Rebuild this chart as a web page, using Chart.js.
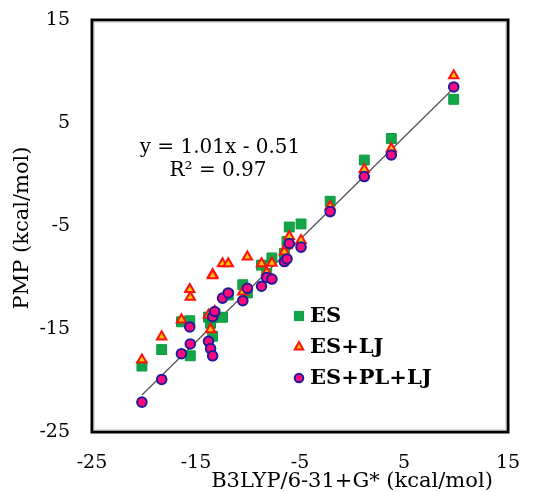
<!DOCTYPE html>
<html>
<head>
<meta charset="utf-8">
<script src="https://cdn.jsdelivr.net/npm/chart.js@4.4.1/dist/chart.umd.min.js"></script>
<style>
    html, body { margin: 0; padding: 0; background: #fff; }
    #wrap { width: 540px; height: 492px; }
</style>
</head>
<body>
<div id="wrap"><canvas id="chart-pmp" width="540" height="492"></canvas></div>
<script>
// B3LYP/6-31+G* reference energies (kcal/mol), one per complex
const b3lyp = [-20.2, -18.3, -16.4, -15.55, -15.6, -13.8, -13.6, -13.4, -13.4, -13.2,
    -12.45, -11.9, -10.5, -10.06, -8.7, -8.2, -7.7, -6.5, -6.25, -6.03,
    -4.9, -2.1, 1.18, 3.78, 9.78];
// PMP energies for each model
const pmpES = [-18.6, -17.0, -14.3, -17.6, -14.2, -13.85, -14.45, -15.7, -13.9, -13.5,
    -13.86, -11.7, -10.7, -11.5, -8.8, -9.6, -8.1, -7.65, -6.5, -5.1,
    -4.8, -2.6, 1.4, 3.5, 7.3];
const pmpLJ = [-18.0, -15.75, -14.1, -11.9, -11.15, -13.65, -15.05, -9.7, -9.8, -13.3,
    -8.65, -8.65, -11.4, -8.0, -8.65, -9.5, -8.6, -7.5, -6.9, -6.0,
    -6.4, -3.1, 0.5, 2.5, 9.6];
const pmpPL = [-22.1, -19.9, -17.4, -16.45, -14.8, -16.2, -16.9, -17.6, -13.8, -13.3,
    -12.0, -11.5, -12.25, -11.05, -10.85, -10.0, -10.15, -8.45, -8.2, -6.7,
    -7.05, -3.6, -0.2, 1.9, 8.5];
// trend line ends
const fitX = [-20.2, 9.6];
const fitY = [-21.4, 8.2];
const fitText = ['y = 1.01x - 0.51', 'R\u00b2 = 0.97'];
const seriesNames = ['ES', 'ES+LJ', 'ES+PL+LJ'];

const FONT = "'DejaVu Serif', serif";

const pts = (xs, ys) => xs.map((x, i) => ({ x: x, y: ys[i] }));

const styles = [
    { pointStyle: 'rect', radius: 7, backgroundColor: '#12A64A', borderColor: '#0C9A3C', borderWidth: 1 },
    { pointStyle: 'triangle', radius: 5.4, backgroundColor: '#FFC000', borderColor: '#FF1010', borderWidth: 2 },
    { pointStyle: 'circle', radius: 4.8, backgroundColor: '#FF0A7A', borderColor: '#1C1C9C', borderWidth: 2 }
];

const decor = {
    id: 'decor',
    afterDraw(chart) {
        const ctx = chart.ctx;
        const a = chart.chartArea;
        ctx.save();
        // frame
        ctx.strokeStyle = '#000';
        ctx.lineWidth = 3;
        ctx.strokeRect(a.left, a.top, a.right - a.left, a.bottom - a.top);
        ctx.strokeStyle = '#bbb';
        ctx.lineWidth = 1;
        ctx.strokeRect(a.left + 2, a.top + 2, a.right - a.left - 4, a.bottom - a.top - 4);

        // equation
        ctx.fillStyle = '#000';
        ctx.textAlign = 'center';
        ctx.textBaseline = 'middle';
        ctx.font = "20px " + FONT;
        ctx.fillText(fitText[0], 220, 148);
        ctx.fillText(fitText[1], 218, 171);

        // legend
        ctx.textAlign = 'left';
        ctx.font = "bold 21px " + FONT;
        seriesNames.forEach((name, i) => {
            const y = 316 + i * 31;
            const s = styles[i];
            ctx.fillStyle = s.backgroundColor;
            ctx.strokeStyle = s.borderColor;
            ctx.lineWidth = s.borderWidth;
            Chart.helpers.drawPoint(ctx, { pointStyle: s.pointStyle, radius: s.radius - 0.5, rotation: 0, borderWidth: s.borderWidth }, 299, y);
            ctx.fillStyle = '#000';
            ctx.fillText(name, 310, y + 1);
        });

        // axis titles
        ctx.font = "21px " + FONT;
        ctx.textAlign = 'center';
        ctx.fillText('B3LYP/6-31+G* (kcal/mol)', 352, 482);
        ctx.translate(23, 228);
        ctx.rotate(-Math.PI / 2);
        ctx.fillText('PMP (kcal/mol)', 0, 0);
        ctx.restore();
    }
};

const theChart = new Chart(document.getElementById('chart-pmp'), {
    type: 'scatter',
    data: {
        datasets: [
            {
                label: seriesNames[2],
                data: pts(b3lyp, pmpPL),
                order: 0,
                pointStyle: styles[2].pointStyle,
                pointRadius: styles[2].radius,
                pointBackgroundColor: styles[2].backgroundColor,
                pointBorderColor: styles[2].borderColor,
                pointBorderWidth: styles[2].borderWidth
            },
            {
                label: seriesNames[1],
                data: pts(b3lyp, pmpLJ),
                order: 1,
                pointStyle: styles[1].pointStyle,
                pointRadius: styles[1].radius,
                pointBackgroundColor: styles[1].backgroundColor,
                pointBorderColor: styles[1].borderColor,
                pointBorderWidth: styles[1].borderWidth
            },
            {
                label: seriesNames[0],
                data: pts(b3lyp, pmpES),
                order: 2,
                pointStyle: styles[0].pointStyle,
                pointRadius: styles[0].radius,
                pointBackgroundColor: styles[0].backgroundColor,
                pointBorderColor: styles[0].borderColor,
                pointBorderWidth: styles[0].borderWidth
            },
            {
                label: 'fit',
                data: pts(fitX, fitY),
                order: 3,
                showLine: true,
                pointRadius: 0,
                borderColor: '#555',
                borderWidth: 1.3
            }
        ]
    },
    options: {
        responsive: false,
        animation: false,
        devicePixelRatio: 1,
        layout: { padding: { top: 20, right: 32, left: 0, bottom: 0 } },
        plugins: {
            legend: { display: false },
            tooltip: { enabled: false }
        },
        scales: {
            x: {
                type: 'linear',
                min: -25,
                max: 15,
                afterFit(scale) {
                    scale.height = 60;
                    scale.paddingLeft = 0;
                    scale.paddingRight = 0;
                },
                grid: { display: false, drawTicks: false },
                border: { display: false },
                ticks: { stepSize: 10, padding: 20, color: '#000', font: { family: FONT, size: 19 } }
            },
            y: {
                type: 'linear',
                min: -25,
                max: 15,
                afterFit(scale) {
                    scale.width = 92;
                    scale.paddingTop = 0;
                    scale.paddingBottom = 0;
                },
                grid: { display: false, drawTicks: false },
                border: { display: false },
                ticks: { stepSize: 10, padding: 22, color: '#000', font: { family: FONT, size: 19 } }
            }
        }
    },
    plugins: [decor]
});
</script>
</body>
</html>
